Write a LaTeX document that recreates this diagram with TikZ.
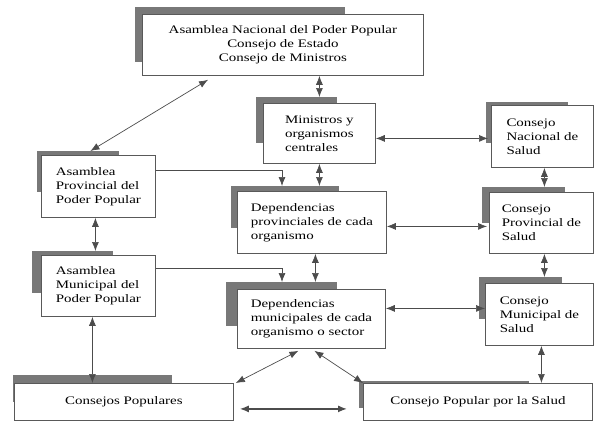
\documentclass[tikz,border=0pt]{standalone}
\usepackage{fontspec}
\setmainfont{Liberation Serif}[FakeStretch=1.3]
\usetikzlibrary{arrows.meta,backgrounds}

\definecolor{shadowgray}{gray}{0.47}
\definecolor{linegray}{gray}{0.3}

\tikzset{
  box/.style={draw=black!65, line width=0.8pt, fill=white, anchor=north west,
    align=left, inner sep=0pt, font=\fontsize{11.5}{14}\selectfont},
  link/.style={draw=linegray, line width=0.7pt,
    {Latex[length=9pt,width=7pt]}-{Latex[length=9pt,width=7pt]}},
  feed/.style={draw=linegray, line width=0.7pt, -{Latex[length=9pt,width=7pt]}},
}

\begin{document}
\begin{tikzpicture}[x=1pt, y=-1pt]
\useasboundingbox (0,0) rectangle (594,421);

% boxes
\node (top) at (142,14) [box, align=center, minimum width=281pt, minimum height=61pt]
  {Asamblea Nacional del Poder Popular\\Consejo de Estado\\Consejo de Ministros};
\node (min) at (263,103) [box, minimum width=112pt, minimum height=60pt]
  {Ministros y\\organismos\\centrales};
\node (cns) at (491,105) [box, minimum width=102pt, minimum height=62pt]
  {Consejo\\Nacional de\\Salud};
\node (aprov) at (41,155) [box, minimum width=114pt, minimum height=62pt]
  {Asamblea\\Provincial del\\Poder Popular};
\node (deprov) at (237,191) [box, minimum width=149pt, minimum height=62pt]
  {Dependencias\\provinciales de cada\\organismo};
\node (cps) at (489,192) [box, minimum width=104pt, minimum height=61pt]
  {Consejo\\Provincial de\\Salud};
\node (amun) at (41,255) [box, minimum width=114pt, minimum height=61pt]
  {Asamblea\\Municipal del\\Poder Popular};
\node (depmun) at (237,289) [box, minimum width=148pt, minimum height=59pt]
  {Dependencias\\municipales de cada\\organismo o sector};
\node (cms) at (485,283) [box, minimum width=108pt, minimum height=62pt]
  {Consejo\\Municipal de\\Salud};
\node (conspop) at (14,383) [box, align=center, minimum width=219pt, minimum height=37pt]
  {Consejos Populares};
\node (cpsalud) at (363,383) [box, align=center, minimum width=229pt, minimum height=37pt]
  {Consejo Popular por la Salud};

% gray shadows behind the boxes
\begin{pgfonlayer}{background}
\foreach \n/\dx/\dy/\w/\h in {top/-7/-7/210/55, min/-7/-6/81/46, cns/-5/-3/82/41,
    aprov/-4/-4/82/41, deprov/-6/-5/108/42, cps/-7/-5/83/36, amun/-9/-4/81/42,
    depmun/-11/-7/111/44, cms/-6/-6/83/42, conspop/-1/-8/159/27, cpsalud/-4/-2/170/27}
  \fill[shadowgray] ([shift={(\dx,\dy)}]\n.north west) rectangle +(\w,\h);
\end{pgfonlayer}

% connectors
\draw[link] (top.south -| min.north) -- ([shift={(0,-6)}]min.north);
\draw[link] ([shift={(66,4)}]top.south west) -- ([shift={(-8,-4)}]aprov.north);
\draw[link] ([shift={(0,5)}]min.east) -- ([shift={(-3,2)}]cns.west);
\draw[link] (min.south) -- ([shift={(7.5,-5)}]deprov.north);
\draw[feed] ([shift={(0,15)}]aprov.north east) -| ([shift={(45,-5)}]deprov.north west);
\draw[link] ([shift={(0,4)}]deprov.east) -- ([shift={(-2,3.5)}]cps.west);
\draw[link] ([shift={(2,0)}]cns.south) -- ([shift={(3,-5)}]cps.north);
\draw[link] ([shift={(-3,0)}]aprov.south) -- ([shift={(-3,-4)}]amun.north);
\draw[feed] ([shift={(0,13)}]amun.north east) -| ([shift={(45,-7)}]depmun.north west);
\draw[link] ([shift={(3.5,0)}]deprov.south) -- ([shift={(4,-7)}]depmun.north);
\draw[link] ([shift={(0,-10.5)}]depmun.east) -- ([shift={(0,-6)}]cms.west);
\draw[link] ([shift={(3,0)}]cps.south) -- ([shift={(5,-6)}]cms.north);
\draw[link] ([shift={(-6,0)}]amun.south) -- ([shift={(-31.5,0)}]conspop.north);
\draw[link] ([shift={(-13,2)}]depmun.south) -- ([shift={(2,0)}]conspop.north east);
\draw[link] ([shift={(3,2)}]depmun.south) -- (cpsalud.north west);
\draw[link] ([shift={(2,0)}]cms.south) -- ([shift={(63.5,0)}]cpsalud.north);
\draw[link, line width=1.4pt] ([shift={(6,7)}]conspop.east) -- ([shift={(-16,7)}]cpsalud.west);
\end{tikzpicture}
\end{document}
